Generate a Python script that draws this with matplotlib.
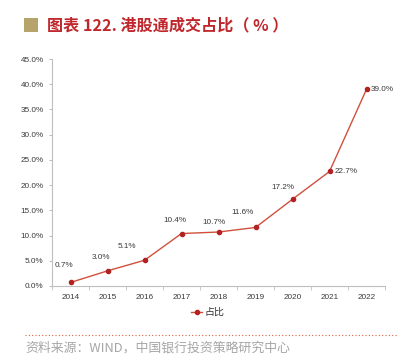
import matplotlib
matplotlib.use("Agg")
import matplotlib.pyplot as plt
from matplotlib.patches import Rectangle
from matplotlib.lines import Line2D

plt.rcParams['font.family'] = ['Noto Sans CJK SC', 'DejaVu Sans']

years = ["2014", "2015", "2016", "2017", "2018", "2019", "2020", "2021", "2022"]
share = [0.7, 3.0, 5.1, 10.4, 10.7, 11.6, 17.2, 22.7, 39.0]
labels = ["0.7%", "3.0%", "5.1%", "10.4%", "10.7%", "11.6%", "17.2%", "22.7%", "39.0%"]
yticks = [0, 5, 10, 15, 20, 25, 30, 35, 40, 45]

W, H = 408, 362
fig = plt.figure(figsize=(W / 100, H / 100), dpi=100)

# axes: x from 52 to 385 px, y from 286 (0) to 59 (45)
ax = fig.add_axes([52 / W, 1 - 286 / H, (385 - 52) / W, (286 - 59) / H])
x = list(range(len(years)))
ax.plot(x, share, color="#D0503C", lw=1.0, marker="o", ms=3, mfc="#B22222", mec="#B22222")
ax.set_xlim(-0.5, len(years) - 0.5)
ax.set_ylim(0, 45)
ax.set_yticks(yticks)
ax.set_yticklabels([f"{v:.1f}%" for v in yticks], fontsize=5.9, color="#3A3A3A",
                   family="Liberation Sans")
ax.set_xticks(x)
ax.set_xticklabels(years, fontsize=5.9, color="#3A3A3A", family="Liberation Sans")
ax.set_xticks([i - 0.5 for i in range(len(years) + 1)], minor=True)
ax.tick_params(axis="x", which="major", length=0, pad=6)
ax.tick_params(axis="x", which="minor", length=3, color="#BFBFBF")
ax.tick_params(axis="y", length=2, color="#BFBFBF", pad=4)
for s in ["top", "right"]:
    ax.spines[s].set_visible(False)
ax.spines["left"].set_color("#BFBFBF")
ax.spines["bottom"].set_color("#BFBFBF")
ax.spines["left"].set_linewidth(0.8)
ax.spines["bottom"].set_linewidth(0.8)
ax.patch.set_alpha(0)

# label offsets in pixels (dx, dy, ha)
offsets = [(-7, 17, "center"), (-7, 13, "center"), (-18, 14, "center"), (-7, 13, "center"),
           (-5, 10, "center"), (-13, 15, "center"), (-10, 12, "center"), (5, 0, "left"),
           (4, 0, "left")]
for i, (v, lab) in enumerate(zip(share, labels)):
    dx, dy, ha = offsets[i]
    ax.annotate(lab, (i, v), xytext=(dx, dy), textcoords="offset pixels",
                ha=ha, va="center", fontsize=5.9, color="#3A3A3A", family="Liberation Sans")

# Title
fig.patches.append(Rectangle((24 / W, 1 - 32 / H), 14 / W, 14 / H, transform=fig.transFigure,
                             facecolor="#B6A46C", edgecolor="none"))
fig.text(47 / W, 1 - 25 / H, "图表 122. 港股通成交占比（ % ）", fontsize=11.6, fontweight="bold",
         color="#C0272D", va="center", ha="left")

# Legend
ly = 1 - 312 / H
fig.lines.append(Line2D([191 / W, 202 / W], [ly, ly], transform=fig.transFigure,
                        color="#D0503C", lw=1.0))
fig.lines.append(Line2D([196.5 / W], [ly], transform=fig.transFigure, color="#B22222",
                        marker="o", ms=3, lw=0))
fig.text(204 / W, ly, "占比", fontsize=7.2, color="#333333", va="center", ha="left")

# Dotted separator
fig.lines.append(Line2D([25 / W, 397 / W], [1 - 335 / H, 1 - 335 / H], transform=fig.transFigure,
                        color="#E0603C", lw=0.8, linestyle=(0, (1, 2))))
fig.text(25 / W, 1 - 348 / H, "资料来源：WIND，中国银行投资策略研究中心", fontsize=9.3,
         fontweight="light", color="#A6A6A6", va="center", ha="left")

fig.savefig("out.png", dpi=100, facecolor="white")
